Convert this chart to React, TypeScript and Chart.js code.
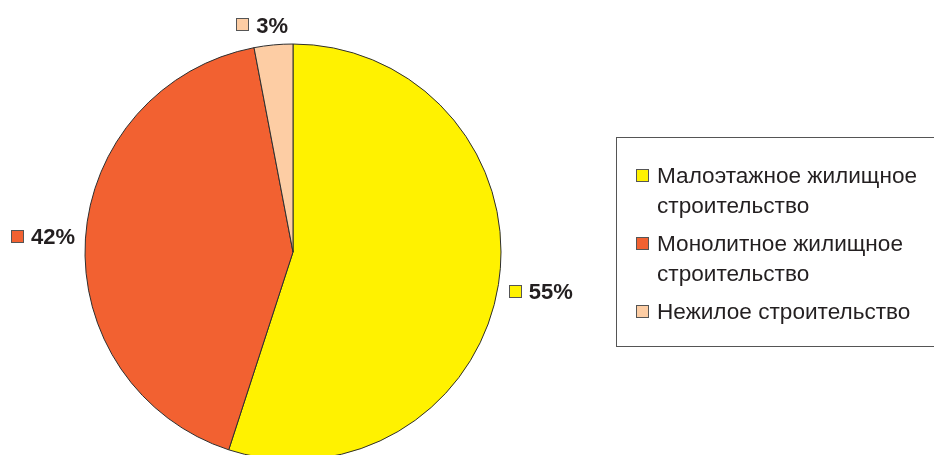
import React, { useEffect, useRef } from "react";
import { Chart, registerables } from "chart.js";

Chart.register(...registerables);

const categories = [
  "Малоэтажное жилищное строительство",
  "Монолитное жилищное строительство",
  "Нежилое строительство",
];
const shares = [55, 42, 3];
const shareLabels = ["55%", "42%", "3%"];
const sliceColors = ["#FFF200", "#F26131", "#FDCDA4"];

const FONT = '"Liberation Sans", Arial, sans-serif';
const TEXT_COLOR = "#231F20";

function wrap(ctx: CanvasRenderingContext2D, text: string, maxW: number): string[] {
  const words = text.split(" ");
  const lines: string[] = [];
  let cur = "";
  for (const w of words) {
    const t = cur ? cur + " " + w : w;
    if (ctx.measureText(t).width > maxW && cur) {
      lines.push(cur);
      cur = w;
    } else cur = t;
  }
  if (cur) lines.push(cur);
  return lines;
}

const overlayPlugin = {
  id: "overlay",
  afterDraw(chart: any) {
    const ctx: CanvasRenderingContext2D = chart.ctx;
    const meta = chart.getDatasetMeta(0);
    ctx.save();
    // data labels
    ctx.font = `bold 22px ${FONT}`;
    ctx.textBaseline = "alphabetic";
    meta.data.forEach((arc: any, i: number) => {
      const p = arc.getProps(["x", "y", "startAngle", "endAngle", "outerRadius"], true);
      const mid = (p.startAngle + p.endAngle) / 2;
      const txt = shareLabels[i];
      const sq = 13;
      const gap = 7;
      const tw = ctx.measureText(txt).width;
      const w = sq + gap + tw;
      const h = 16;
      const c = Math.cos(mid);
      const s = Math.sin(mid);
      const dist = p.outerRadius + 10 + Math.abs(c) * w / 2 + Math.abs(s) * h / 2;
      // labels near the vertical axis lean a little further sideways
      const sideShift = Math.abs(c) < 0.3 ? Math.sign(c) * w * 0.18 : 0;
      const cx = p.x + c * dist + sideShift;
      const cy = p.y + s * dist;
      const left = cx - w / 2;
      ctx.fillStyle = sliceColors[i];
      ctx.fillRect(Math.round(left) + 0.5, Math.round(cy - sq / 2) + 0.5, sq - 1, sq - 1);
      ctx.strokeStyle = "#555";
      ctx.lineWidth = 1;
      ctx.strokeRect(Math.round(left) + 0.5, Math.round(cy - sq / 2) + 0.5, sq - 1, sq - 1);
      ctx.fillStyle = TEXT_COLOR;
      ctx.textAlign = "left";
      ctx.fillText(txt, left + sq + gap, cy + 8);
    });

    // legend
    ctx.strokeStyle = "#555";
    ctx.lineWidth = 1;
    ctx.strokeRect(616.5, 137.5, 400, 209);
    ctx.font = `22.6px ${FONT}`;
    let base = 183;
    const lineH = 30;
    const itemGap = 8;
    categories.forEach((cat, i) => {
      const lines = wrap(ctx, cat, 275);
      ctx.fillStyle = sliceColors[i];
      ctx.fillRect(636.5, base - 13.5, 12, 12);
      ctx.strokeStyle = "#555";
      ctx.strokeRect(636.5, base - 13.5, 12, 12);
      ctx.fillStyle = TEXT_COLOR;
      lines.forEach((ln, j) => {
        ctx.fillText(ln, 657, base + j * lineH);
      });
      base += lines.length * lineH + itemGap;
    });
    ctx.restore();
  },
};

export default function App() {
  const ref = useRef<HTMLCanvasElement | null>(null);
  useEffect(() => {
    if (!ref.current) return;
    const chart = new Chart(ref.current, {
      type: "pie",
      data: {
        labels: categories,
        datasets: [
          {
            data: shares,
            backgroundColor: sliceColors,
            borderColor: "#2E2E2E",
            borderWidth: 1,
            clip: false as any,
          },
        ],
      },
      options: {
        animation: false,
        responsive: false,
        devicePixelRatio: 1,
        radius: 208,
        layout: { padding: { left: 0, right: 348, top: 49, bottom: 0 } },
        plugins: {
          legend: { display: false },
          tooltip: { enabled: false },
        },
        events: [],
      } as any,
      plugins: [overlayPlugin],
    });
    return () => chart.destroy();
  }, []);
  return (
    <div
      style={{
        position: "fixed",
        left: 0,
        top: 0,
        width: 934,
        height: 455,
        overflow: "hidden",
        background: "#fff",
      }}
    >
      <canvas ref={ref} width={934} height={455} style={{ display: "block" }} />
    </div>
  );
}
